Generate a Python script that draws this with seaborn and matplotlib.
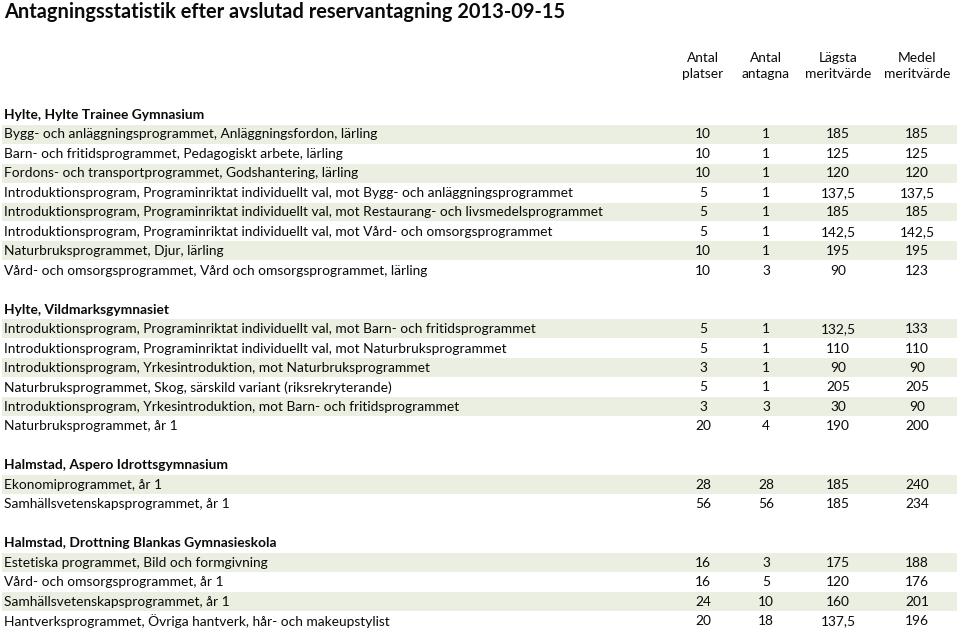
import matplotlib.pyplot as plt
import seaborn as sns

title = "Antagningsstatistik efter avslutad reservantagning 2013-09-15"
col_headers = ["Antal\nplatser", "Antal\nantagna", "Lägsta\nmeritvärde", "Medel\nmeritvärde"]

schools = ["Hylte, Hylte Trainee Gymnasium",
           "Hylte, Vildmarksgymnasiet",
           "Halmstad, Aspero Idrottsgymnasium",
           "Halmstad, Drottning Blankas Gymnasieskola"]

programs = [
    ["Bygg- och anläggningsprogrammet, Anläggningsfordon, lärling",
     "Barn- och fritidsprogrammet, Pedagogiskt arbete, lärling",
     "Fordons- och transportprogrammet, Godshantering, lärling",
     "Introduktionsprogram, Programinriktat individuellt val, mot Bygg- och anläggningsprogrammet",
     "Introduktionsprogram, Programinriktat individuellt val, mot Restaurang- och livsmedelsprogrammet",
     "Introduktionsprogram, Programinriktat individuellt val, mot Vård- och omsorgsprogrammet",
     "Naturbruksprogrammet, Djur, lärling",
     "Vård- och omsorgsprogrammet, Vård och omsorgsprogrammet, lärling"],
    ["Introduktionsprogram, Programinriktat individuellt val, mot Barn- och fritidsprogrammet",
     "Introduktionsprogram, Programinriktat individuellt val, mot Naturbruksprogrammet",
     "Introduktionsprogram, Yrkesintroduktion, mot Naturbruksprogrammet",
     "Naturbruksprogrammet, Skog, särskild variant (riksrekryterande)",
     "Introduktionsprogram, Yrkesintroduktion, mot Barn- och fritidsprogrammet",
     "Naturbruksprogrammet, år 1"],
    ["Ekonomiprogrammet, år 1",
     "Samhällsvetenskapsprogrammet, år 1"],
    ["Estetiska programmet, Bild och formgivning",
     "Vård- och omsorgsprogrammet, år 1",
     "Samhällsvetenskapsprogrammet, år 1",
     "Hantverksprogrammet, Övriga hantverk, hår- och makeupstylist"],
]

platser = [[10, 10, 10, 5, 5, 5, 10, 10],
           [5, 5, 3, 5, 3, 20],
           [28, 56],
           [16, 16, 24, 20]]
antagna = [[1, 1, 1, 1, 1, 1, 1, 3],
           [1, 1, 1, 1, 3, 4],
           [28, 56],
           [3, 5, 10, 18]]
lagsta = [[185, 125, 120, 137.5, 185, 142.5, 195, 90],
          [132.5, 110, 90, 205, 30, 190],
          [185, 185],
          [175, 120, 160, 137.5]]
medel = [[185, 125, 120, 137.5, 185, 142.5, 195, 123],
         [133, 110, 90, 205, 90, 200],
         [240, 234],
         [188, 176, 201, 196]]


def fmt(v):
    return f"{v:g}".replace(".", ",")


sns.set_theme(style="white")
plt.rcParams['font.family'] = ['Lato', 'DejaVu Sans']

fig = plt.figure(figsize=(9.6, 6.31), dpi=100)
ax = fig.add_axes([0, 0, 1, 1])
pitch = 19.46
ax.set_xlim(0, 960)
ax.set_ylim((631 - 115) / pitch, -115 / pitch)
ax.axis("off")

stripe = "#ebefe2"
ink = "#0a0a0a"
col_x = [703, 766, 838, 917]
fs = 9.95

ax.text(4, (12 - 115) / pitch, title, fontsize=14.4, fontweight="bold",
        ha="left", va="center", color=ink)
for cx, h in zip(col_x, col_headers):
    ax.text(cx, -2.52, h, fontsize=fs, ha="center", va="center",
            linespacing=1.35, color=ink)

row = 0
for g, school in enumerate(schools):
    ax.text(4, row, school, fontsize=fs, fontweight="bold", ha="left",
            va="center", color=ink)
    row += 1
    for i, prog in enumerate(programs[g]):
        if i % 2 == 0:
            ax.axhspan(row - 0.5, row + 0.47, xmin=2 / 960, xmax=957 / 960,
                       color=stripe, lw=0, zorder=0)
        ax.text(4, row, prog, fontsize=fs, ha="left", va="center", color=ink)
        vals = [platser[g][i], antagna[g][i], lagsta[g][i], medel[g][i]]
        for cx, v in zip(col_x, vals):
            ax.text(cx, row, fmt(v), fontsize=fs, ha="center", va="center",
                    color=ink)
        row += 1
    row += 1

fig.savefig("out.png", dpi=100)
